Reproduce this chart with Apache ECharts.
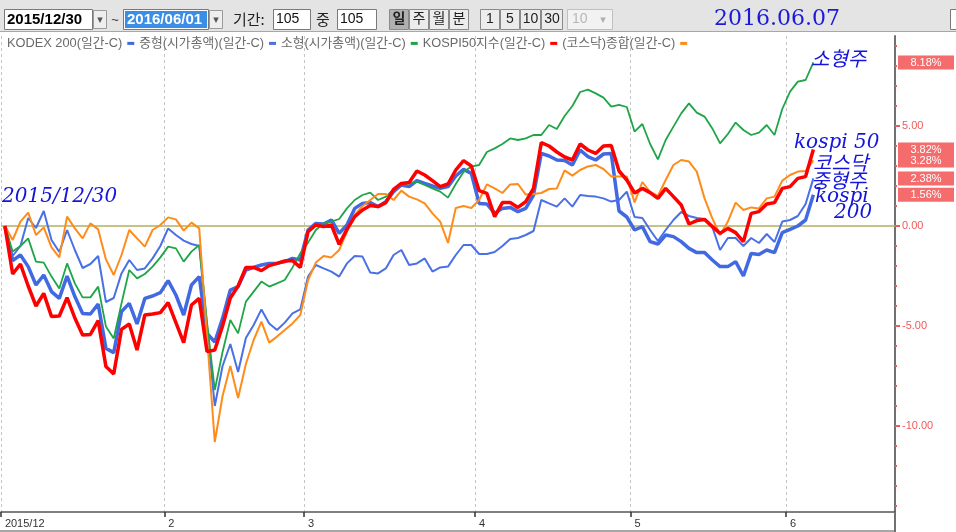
<!DOCTYPE html>
<html><head><meta charset="utf-8">
<script src="https://cdn.jsdelivr.net/npm/echarts@6/dist/echarts.min.js"></script>
<style>html,body{margin:0;padding:0;background:#fff;overflow:hidden}#c{width:956px;height:532px}</style>
</head><body><div id="c"></div>
<script>
// ---------- data ----------
const dates = [
 '2015/12/30',
 '2016/01/04','2016/01/05','2016/01/06','2016/01/07','2016/01/08','2016/01/11','2016/01/12','2016/01/13','2016/01/14','2016/01/15',
 '2016/01/18','2016/01/19','2016/01/20','2016/01/21','2016/01/22','2016/01/25','2016/01/26','2016/01/27','2016/01/28','2016/01/29',
 '2016/02/01','2016/02/02','2016/02/03','2016/02/04','2016/02/05','2016/02/11','2016/02/12','2016/02/15','2016/02/16','2016/02/17',
 '2016/02/18','2016/02/19','2016/02/22','2016/02/23','2016/02/24','2016/02/25','2016/02/26','2016/02/29',
 '2016/03/02','2016/03/03','2016/03/04','2016/03/07','2016/03/08','2016/03/09','2016/03/10','2016/03/11','2016/03/14','2016/03/15',
 '2016/03/16','2016/03/17','2016/03/18','2016/03/21','2016/03/22','2016/03/23','2016/03/24','2016/03/25','2016/03/28','2016/03/29',
 '2016/03/30','2016/03/31',
 '2016/04/01','2016/04/04','2016/04/05','2016/04/06','2016/04/07','2016/04/08','2016/04/11','2016/04/12','2016/04/14','2016/04/15',
 '2016/04/18','2016/04/19','2016/04/20','2016/04/21','2016/04/22','2016/04/25','2016/04/26','2016/04/27','2016/04/28','2016/04/29',
 '2016/05/02','2016/05/03','2016/05/04','2016/05/09','2016/05/10','2016/05/11','2016/05/12','2016/05/13','2016/05/16','2016/05/17',
 '2016/05/18','2016/05/19','2016/05/20','2016/05/23','2016/05/24','2016/05/25','2016/05/26','2016/05/27','2016/05/30','2016/05/31',
 '2016/06/01','2016/06/02','2016/06/03','2016/06/07'
];
const padCategories = ['p1','p2','p3','p4','p5','p6','p7','p8','p9','p10'];
const tickIndex = [0, 21, 39, 61, 81, 101];
const tickLabels = ['2015/12', '2', '3', '4', '5', '6'];

const seriesNames = ['KODEX 200(일간-C)', '중형(시가총액)(일간-C)', '소형(시가총액)(일간-C)', 'KOSPI50지수(일간-C)', '(코스닥)종합(일간-C)'];

const kodex200 = [0,-1.73,-1.45,-2.03,-2.95,-2.45,-3.28,-3.62,-2.5,-3.53,-4.37,-4.4,-3.9,-6.12,-6.33,-4.28,-3.87,-4.9,-3.62,-3.5,-3.33,-2.73,-3.45,-4.45,-2.95,-2.53,-5.37,-5.8,-4.62,-3.2,-3.03,-2.2,
 -2.07,-1.95,-1.87,-1.87,-1.78,-1.62,-1.7,-0.2,0.13,0.1,0.3,-0.37,0.05,0.88,1.13,1.17,0.97,1.22,1.72,2.05,1.97,2.27,2.13,2.0,1.88,
 1.97,2.5,2.83,2.63,1.13,1.1,0.63,0.88,0.93,0.72,0.88,1.55,3.63,3.5,
 3.3,3.27,3.05,3.8,3.47,3.3,3.6,3.63,0.75,0.45,-0.2,-0.03,-0.78,-0.9,
 -0.45,-0.53,-0.78,-1.12,-1.33,-1.33,-1.7,-2.03,-2.03,-1.78,-2.5,-1.37,-1.42,-1.2,-1.33,-0.33,-0.17,0.0,0.3,1.56];

const midCap = [0,-1.5,-1.0,0.4,-0.1,0.75,-0.7,-1.3,-0.2,-1.2,-2.1,-1.9,-1.5,-3.8,-3.6,-2.37,-1.7,-2.2,-2.12,-1.62,-1.0,-0.12,-0.45,-0.73,-0.9,-1.0,-5.0,-9.0,-7.0,-5.9,-7.3,-5.6,
 -4.95,-4.17,-4.87,-5.2,-4.83,-4.37,-4.17,-2.53,-1.95,-2.12,-2.28,-2.53,-1.87,-1.5,-1.53,-2.33,-2.37,-2.12,-1.45,-1.2,-1.95,-1.87,-1.62,-2.28,-2.07,
 -2.03,-1.45,-0.95,-0.95,-1.4,-1.4,-1.3,-1.0,-0.65,-0.6,-0.45,-0.25,1.3,1.13,
 0.97,1.38,0.97,1.55,1.5,1.47,1.38,1.22,1.3,1.72,0.45,0.4,-0.2,-0.75,
 -0.2,0.3,0.7,0.5,0.4,0.35,-0.05,-1.2,-0.6,-0.6,-1.0,-0.6,-0.85,-0.4,-0.8,0.22,0.3,0.5,1.1,2.38];

const smallCap = [0,-1.28,-1.0,-0.62,-1.78,-1.83,-2.53,-3.12,-1.87,-2.87,-3.57,-3.57,-3.03,-5.03,-5.62,-3.87,-2.2,-2.62,-2.4,-2.03,-1.57,-1.03,-1.12,-1.78,-1.28,-0.95,-4.8,-8.2,-6.3,-4.7,-5.37,-3.78,
 -3.28,-2.78,-3.03,-2.87,-2.7,-2.07,-1.37,-0.83,-0.2,0.13,0.22,0.35,0.88,1.3,1.55,1.67,1.3,1.47,1.83,2.08,2.13,2.22,2.05,1.88,1.72,
 1.42,2.1,2.7,2.97,3.05,3.7,3.88,4.1,4.38,4.3,4.38,4.55,4.55,5.05,
 4.85,5.5,6.0,6.7,6.82,6.63,6.42,5.97,6.06,5.95,4.72,5.1,4.1,3.33,
 4.3,4.97,5.63,6.13,5.67,5.47,4.88,4.13,4.6,5.17,4.8,4.55,4.67,5.05,4.55,5.85,6.72,7.22,7.3,8.18];

const kospi50 = [0,-2.4,-1.9,-3.0,-4.0,-3.37,-4.53,-4.5,-3.58,-4.6,-5.45,-5.42,-4.73,-7.03,-7.4,-5.17,-4.9,-6.2,-4.45,-4.4,-4.33,-3.83,-4.83,-5.83,-3.95,-3.62,-6.28,-6.2,-5.0,-3.6,-3.0,-2.07,
 -2.07,-2.23,-1.98,-1.87,-1.75,-1.73,-2.07,-0.28,0.05,-0.03,0.05,-0.92,-0.17,0.47,0.8,1.03,0.97,1.17,1.83,2.13,2.18,2.75,2.55,2.27,1.97,
 2.1,2.8,3.27,3.0,1.77,1.63,0.47,1.17,1.17,0.93,1.22,1.88,4.17,4.0,
 3.7,3.45,3.3,4.1,3.8,3.63,4.0,4.03,2.75,2.3,1.65,1.88,1.67,1.38,
 1.88,1.47,1.05,0.1,0.27,0.33,-0.03,-0.37,-0.12,-0.33,-0.78,0.63,0.72,1.1,1.17,1.88,1.97,2.38,2.47,3.82];

const kosdaq = [0,-0.7,0.22,0.67,-0.45,-0.07,-1.07,-1.57,0.47,-0.12,-0.62,0.13,-0.17,-1.67,-2.45,-1.45,-0.2,-0.62,-1.03,-0.2,0.05,0.43,0.33,-0.23,0.17,-0.12,
 -5.5,-10.8,-8.5,-7.0,-8.6,-6.9,
 -5.7,-4.78,-5.83,-5.53,-5.2,-4.87,-4.45,-2.7,-1.83,-1.5,-1.57,-1.2,-0.28,0.55,1.0,1.3,1.6,1.6,1.3,1.77,1.47,1.33,1.13,0.63,0.22,
 -0.85,0.9,1.0,0.9,1.3,2.08,1.88,1.65,2.08,2.1,1.57,1.6,1.65,1.85,
 1.88,2.78,2.52,2.8,2.98,3.05,2.85,2.48,2.47,2.47,1.18,2.2,1.7,1.5,
 2.3,3.05,3.3,3.22,2.72,1.38,0.38,-0.45,0.22,1.17,0.8,0.93,0.88,1.38,1.47,2.27,2.55,2.72,2.75,3.28];

const yLabelValues = [-10, -5, 0, 5];
const yMinorValues = [-14,-13,-12,-11,-10,-9,-8,-7,-6,-5,-4,-3,-2,-1,0,1,2,3,4,5,6,7,8,9];

// ---------- chart ----------
const FONT = '"Liberation Sans", "Noto Sans CJK KR", sans-serif';
const categories = dates.concat(padCategories);
const isTick = (i) => tickIndex.indexOf(i) >= 0;
const colors = { kodex: '#4169e1', mid: '#4a70e6', small: '#1fa548', k50: '#ff0000', kq: '#ff8c1a' };

const chart = echarts.init(document.getElementById('c'), null, { renderer: 'canvas' });

const option = {
  animation: false,
  backgroundColor: '#ffffff',
  grid: { left: 1, right: 61, top: 36, bottom: 20, containLabel: false },
  legend: {
    left: 7, top: 37, padding: 0, align: 'right', icon: 'rect', itemWidth: 7, itemHeight: 3, itemGap: 5,
    selectedMode: false,
    data: seriesNames,
    textStyle: { fontSize: 12.8, color: '#6a6a6a', fontFamily: FONT }
  },
  xAxis: {
    type: 'category', data: categories, boundaryGap: true,
    axisLine: { show: true, onZero: false, lineStyle: { color: '#555555', width: 1.5 } },
    axisTick: { show: true, interval: isTick, length: 5, lineStyle: { color: '#333333', width: 1.5 } },
    axisLabel: {
      interval: isTick, align: 'left', margin: 6, color: '#333333', fontSize: 11, fontFamily: FONT,
      formatter: (v, i) => { const k = tickIndex.indexOf(i); return k >= 0 ? tickLabels[k] : ''; }
    },
    splitLine: { show: true, interval: isTick, lineStyle: { color: '#c4c4c4', type: [3, 3], width: 1 } }
  },
  yAxis: [
    {
      type: 'value', position: 'right', min: -14.3, max: 9.5,
      axisLine: { show: true, lineStyle: { color: '#707070', width: 2 } },
      axisTick: { show: true, customValues: yLabelValues, length: 5, lineStyle: { color: '#f05a5a', width: 2 } },
      axisLabel: { customValues: yLabelValues, margin: 7, color: '#f05a5a', fontSize: 11, fontFamily: FONT,
                   formatter: (v) => v.toFixed(2) },
      splitLine: { show: false }
    },
    {
      type: 'value', position: 'right', min: -14.3, max: 9.5,
      axisLine: { show: false },
      axisTick: { show: true, customValues: yMinorValues, length: 2, lineStyle: { color: '#f05a5a', width: 2 } },
      axisLabel: { show: false },
      splitLine: { show: false }
    }
  ],
  series: [
    { name: seriesNames[0], type: 'line', data: kodex200, symbol: 'none', color: colors.kodex,
      lineStyle: { width: 3.5, color: colors.kodex },
      markLine: { silent: true, symbol: ['none', 'none'], z: 1, label: { show: false },
                  lineStyle: { color: '#b5ae5c', width: 1.5, type: 'solid' }, data: [{ yAxis: 0 }] } },
    { name: seriesNames[1], type: 'line', data: midCap, symbol: 'none', color: colors.mid,
      lineStyle: { width: 2, color: colors.mid } },
    { name: seriesNames[2], type: 'line', data: smallCap, symbol: 'none', color: colors.small,
      lineStyle: { width: 1.8, color: colors.small } },
    { name: seriesNames[4], type: 'line', data: kosdaq, symbol: 'none', color: colors.kq,
      lineStyle: { width: 2, color: colors.kq } },
    { name: seriesNames[3], type: 'line', data: kospi50, symbol: 'none', color: colors.k50,
      lineStyle: { width: 3.5, color: colors.k50 } }
  ]
};
chart.setOption(option);

// ---------- graphics (toolbar, annotations, value tags) ----------
function box(x, y, w, h, fill, stroke, z) {
  return { type: 'rect', silent: true, z: z || 10, shape: { x: x, y: y, width: w, height: h },
           style: { fill: fill, stroke: stroke || null, lineWidth: 1 } };
}
function txt(x, y, s, font, fill, align, z) {
  return { type: 'text', silent: true, z: z || 11, x: x, y: y,
           style: { text: s, font: font, fill: fill, textAlign: align || 'left', textVerticalAlign: 'middle' } };
}
function line(x1, y1, x2, y2, color, w, z) {
  return { type: 'line', silent: true, z: z || 10, shape: { x1: x1, y1: y1, x2: x2, y2: y2 },
           style: { stroke: color, lineWidth: w || 1 } };
}

const g = [];
// toolbar
g.push(box(0, 0, 956, 31, '#e4e4e4', null, 9));
g.push(line(0, 31.5, 956, 31.5, '#a8a8a8', 1));
g.push(box(4.5, 9.5, 88, 20, '#ffffff', '#7a7a7a'));
g.push(txt(7, 19.5, '2015/12/30', 'bold 15px "Liberation Sans"', '#000000'));
g.push(box(93.5, 10.5, 13, 18, '#eeeeee', '#9a9a9a'));
g.push(txt(100, 20, '▾', '11px "DejaVu Sans"', '#555555', 'center'));
g.push(txt(115, 20, '~', '13px "Liberation Sans"', '#333333', 'center'));
g.push(box(123.5, 9.5, 85, 20, '#ffffff', '#7a7a7a'));
g.push(box(125, 11, 82, 17, '#3a8ee6', null));
g.push(txt(127, 19.5, '2016/06/01', 'bold 15px "Liberation Sans"', '#ffffff'));
g.push(box(209.5, 10.5, 13, 18, '#eeeeee', '#9a9a9a'));
g.push(txt(216, 20, '▾', '11px "DejaVu Sans"', '#555555', 'center'));
g.push(txt(233, 19.5, '기간:', '15px "Noto Sans CJK KR"', '#222222'));
g.push(box(273.5, 9.5, 37, 20, '#ffffff', '#7a7a7a'));
g.push(txt(276, 19.5, '105', '14px "Liberation Sans"', '#111111'));
g.push(txt(316, 19.5, '중', '15px "Noto Sans CJK KR"', '#222222'));
g.push(box(337.5, 9.5, 39, 20, '#ffffff', '#7a7a7a'));
g.push(txt(340, 19.5, '105', '14px "Liberation Sans"', '#111111'));
const btns = [['일', 389, 19, true], ['주', 409, 19], ['월', 429, 19], ['분', 449, 19],
              ['1', 480, 19], ['5', 500, 19], ['10', 520, 20], ['30', 541, 21]];
btns.forEach(function (b) {
  g.push(box(b[1] + 0.5, 9.5, b[2], 20, b[3] ? '#b0b0b0' : '#ececec', '#8a8a8a'));
  g.push(txt(b[1] + b[2] / 2 + 0.5, 19.5, b[0], (b[3] ? 'bold ' : '') + '14px "Liberation Sans", "Noto Sans CJK KR"', '#222222', 'center'));
});
g.push(box(567.5, 9.5, 45, 20, '#f2f2f2', '#c0c0c0'));
g.push(txt(572, 19.5, '10', '14px "Liberation Sans"', '#b8b8b8'));
g.push(txt(603, 20, '▾', '11px "DejaVu Sans"', '#b0b0b0', 'center'));
g.push(txt(714, 19, '2016.06.07', '22px "DejaVu Serif"', '#1a1ad8'));
g.push(box(950.5, 9.5, 10, 20, '#ffffff', '#7a7a7a'));

// bottom band / axis extension
g.push(line(0, 531, 896, 531, '#8a8a8a', 1.5));
g.push(line(895, 512, 895, 532, '#707070', 2));

// annotations
const ANN = '#1414dc';
g.push(txt(2, 197, '2015/12/30', 'italic 20px "DejaVu Serif"', ANN));
g.push(txt(811, 58, '소형주', 'italic 20px "Noto Sans CJK KR"', ANN));
g.push(txt(794, 143, 'kospi 50', 'italic 20px "DejaVu Serif"', ANN));
g.push(txt(813, 162, '코스닥', 'italic 20px "Noto Sans CJK KR"', ANN));
g.push(txt(811, 180, '중형주', 'italic 20px "Noto Sans CJK KR"', ANN));
g.push(txt(815, 197, 'kospi', 'italic 20px "DejaVu Serif"', ANN));
g.push(txt(834, 213, '200', 'italic 20px "DejaVu Serif"', ANN));

// value tags at the right axis (last values)
const lastValues = [smallCap, kospi50, kosdaq, midCap, kodex200].map(function (a) { return a[a.length - 1]; });
lastValues.forEach(function (v, k) {
  const py = chart.convertToPixel({ yAxisIndex: 0 }, v);
  g.push(box(898, py - 7, 56, 14, '#f46c6c', null, 20 + k * 2));
  g.push(txt(926, py + 0.5, v.toFixed(2) + '%', '11px "Liberation Sans"', '#ffffff', 'center', 21 + k * 2));
});

chart.setOption({ graphic: g });
</script>
</body></html>
